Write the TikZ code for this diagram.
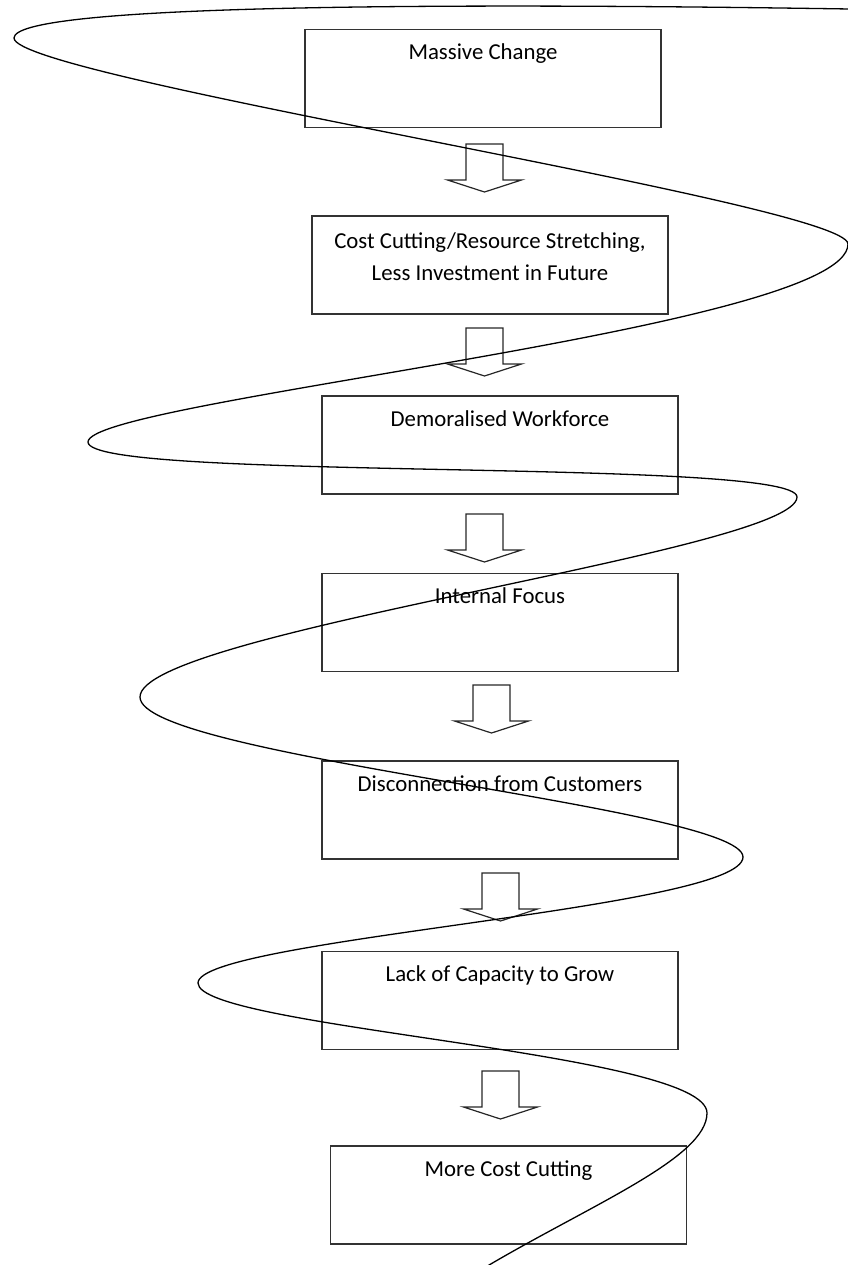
\documentclass[tikz,border=0pt]{standalone}
\usepackage{fontspec}
\setmainfont{Carlito}
\begin{document}
\begin{tikzpicture}[x=0.5pt,y=-0.5pt]
\tikzset{
 box/.style={draw=black!80, line width=0.6pt, minimum width=178pt, minimum height=49pt, inner sep=0pt, outer sep=0pt},
 lbl/.style={font=\fontsize{11.4}{16}\selectfont, inner sep=0pt, anchor=base},
 blockarr/.pic={\draw[line width=0.6pt, line join=miter, draw=black!85] (-18.5,0) -- (-18.5,36) -- (-37,36) -- (0,48) -- (37,36) -- (18.5,36) -- (18.5,0) -- cycle;},
 spiral/.style={line width=0.65pt, line cap=round}
}
\useasboundingbox (0,0) rectangle (847,1265);
% boxes
\node[box] (b1) at (483,78.5) {};
\node[box] (b2) at (490,265) {};
\node[box] (b3) at (500,445) {};
\node[box] (b4) at (500,622.5) {};
\node[box] (b5) at (500,810) {};
\node[box] (b6) at (500,1000.5) {};
\node[box] (b7) at (508.5,1195) {};
% labels
\node[lbl] (t1) at ([yshift=-15pt]b1.north) {Massive Change};
\node[lbl] (t2a) at ([yshift=-16pt]b2.north) {Cost Cutting/Resource Stretching,};
\node[lbl] (t2b) at ([yshift=-32pt]b2.north) {Less Investment in Future};
\node[lbl] (t3) at ([yshift=-15pt]b3.north) {Demoralised Workforce};
\node[lbl] (t4) at ([yshift=-15pt]b4.north) {Internal Focus};
\node[lbl] (t5) at ([yshift=-15pt]b5.north) {Disconnection from Customers};
\node[lbl] (t6) at ([yshift=-15pt]b6.north) {Lack of Capacity to Grow};
\node[lbl] (t7) at ([yshift=-15pt]b7.north) {More Cost Cutting};
% block arrows
\pic at (484.5,144) {blockarr};
\pic at (484.5,328) {blockarr};
\pic at (484.5,514) {blockarr};
\pic at (491.5,685) {blockarr};
\pic at (500.5,873) {blockarr};
\pic at (500.5,1071) {blockarr};
% spiral
\draw[spiral] (850,9) .. controls (400,2) and (14,6) .. (14,38)
 .. controls (14,78) and (848,204) .. (848,244)
 .. controls (848,329) and (88,400) .. (88,442)
 .. controls (88,482) and (797,457) .. (797,497)
 .. controls (797,551) and (140,632) .. (140,697)
 .. controls (140,757) and (743,807) .. (743,857)
 .. controls (743,909) and (198,939) .. (198,983)
 .. controls (198,1028) and (707,1052) .. (707,1113)
 .. controls (707,1158) and (590,1205) .. (484,1268);
\end{tikzpicture}
\end{document}
